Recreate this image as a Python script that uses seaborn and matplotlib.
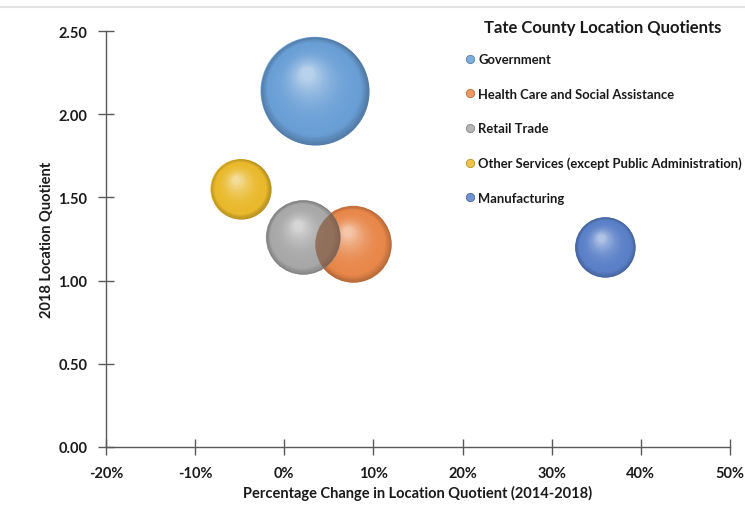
import matplotlib
matplotlib.use("Agg")
import matplotlib.pyplot as plt
import matplotlib.transforms as mtransforms
import numpy as np
import pandas as pd
import seaborn as sns
from matplotlib.colors import to_rgb
from matplotlib.lines import Line2D
from matplotlib.patches import Circle

# Data
industries = [
    "Government",
    "Health Care and Social Assistance",
    "Retail Trade",
    "Other Services (except Public Administration)",
    "Manufacturing",
]
lq_change_pct = [3.4, 7.7, 2.1, -4.9, 36.0]
lq_2018 = [2.14, 1.22, 1.26, 1.55, 1.20]
employment = [2900, 1450, 1370, 900, 900]
colors = ["#6A9FD6", "#E8874A", "#A8A8A8", "#E9B92C", "#5A80C8"]

x_ticks = [-20, -10, 0, 10, 20, 30, 40, 50]
y_ticks = [0.0, 0.5, 1.0, 1.5, 2.0, 2.5]

df = pd.DataFrame({
    "industry": industries,
    "change": lq_change_pct,
    "lq": lq_2018,
    "employment": employment,
})

# Style
sns.set_theme(style="white")
plt.rcParams["font.family"] = ["Lato", "DejaVu Sans"]
plt.rcParams["font.weight"] = "bold"
plt.rcParams["axes.labelweight"] = "bold"
AXIS_GREY = "#595959"
TEXT = "#1a1a1a"


def mix(c1, c2, t):
    a, b = np.array(to_rgb(c1)), np.array(to_rgb(c2))
    return tuple(a + (b - a) * t)


def sphere_color(base, t):
    """Colour of the shading ring at fraction t (0 = rim, 1 = highlight)."""
    dark = mix(base, "black", 0.22)
    light = mix(base, "white", 0.55)
    if t < 0.15:
        return mix(dark, base, t / 0.15)
    return mix(base, light, ((t - 0.15) / 0.85) ** 2.2)


fig = plt.figure(figsize=(7.45, 5.06), dpi=100)
ax = fig.add_axes([106 / 745, 58 / 506, 624 / 745, 416 / 506])

# area-proportional bubbles (scale: points^2 per employee)
k = 2.09
sns.scatterplot(
    data=df, x="change", y="lq", hue="industry", palette=colors,
    size="employment", sizes=(min(employment) * k, max(employment) * k),
    legend=False, linewidth=0, ax=ax, zorder=1,
)
base_sizes = ax.collections[0].get_sizes()

# shaded sphere look: stacked discs drifting toward the highlight
n_layers = 45
hx, hy = -0.15, 0.33
for i, (xv, yv, col) in enumerate(zip(lq_change_pct, lq_2018, colors)):
    R = np.sqrt(base_sizes[i]) / 2
    for j in range(n_layers):
        t = j / n_layers
        r = R * (1 - 0.9 * t)
        dx, dy = hx * R * t, hy * R * t
        trans = ax.transData + mtransforms.ScaledTranslation(dx / 72, dy / 72, fig.dpi_scale_trans)
        ax.scatter([xv], [yv], s=(2 * r) ** 2, color=sphere_color(col, t),
                   linewidths=0, transform=trans, zorder=2 + i + 0.9 * t)

# retail sphere is see-through where it overlaps health care
ri, hi = 2, 1
R_retail = np.sqrt(base_sizes[ri]) / 2
clip = Circle((0, 0), R_retail / 72, transform=fig.dpi_scale_trans
              + mtransforms.ScaledTranslation(lq_change_pct[ri], lq_2018[ri], ax.transData))
overlap = ax.scatter([lq_change_pct[hi]], [lq_2018[hi]], s=base_sizes[hi],
                     color=mix(colors[hi], "black", 0.45), alpha=0.6,
                     linewidths=0, zorder=5)
overlap.set_clip_path(clip)

ax.set_xlim(-20, 50)
ax.set_ylim(0, 2.5)
ax.set_xticks(x_ticks)
ax.set_yticks(y_ticks)
ax.set_xticklabels([f"{v}%" for v in x_ticks])
ax.set_yticklabels([f"{v:.2f}" for v in y_ticks])
ax.tick_params(axis="both", bottom=True, left=True, direction="inout", length=12,
               width=1, color=AXIS_GREY, labelsize=10.5, labelcolor=TEXT, pad=7.5)
sns.despine(ax=ax)
for side in ("left", "bottom"):
    ax.spines[side].set_color(AXIS_GREY)
    ax.spines[side].set_linewidth(1)

ax.set_xlabel("Percentage Change in Location Quotient (2014-2018)", fontsize=10.5,
              color=TEXT, labelpad=4)
ax.set_ylabel("2018 Location Quotient", fontsize=10.5, color=TEXT, labelpad=3)

handles = [
    Line2D([], [], marker="o", linestyle="", markersize=6,
           markerfacecolor=mix(c, "white", 0.15), markeredgecolor=mix(c, "black", 0.2),
           markeredgewidth=0.6)
    for c in colors
]
leg = fig.legend(
    handles, industries, title="Tate County Location Quotients",
    loc="upper left", bbox_to_anchor=(458 / 745, 1 - 15 / 506),
    frameon=False, fontsize=9.4, title_fontsize=12, labelspacing=1.72,
    handletextpad=0.15, handlelength=1.0, borderaxespad=0,
)
leg.get_title().set_fontweight("bold")
leg.get_title().set_color(TEXT)
leg._legend_box.sep = 13
for txt in leg.get_texts():
    txt.set_color(TEXT)

# thin border line at the top of the frame
fig.add_artist(Line2D([0, 1], [1 - 8 / 506] * 2, transform=fig.transFigure,
                      color="#e3e3e3", linewidth=1.5))

fig.savefig("out.png", dpi=100)
plt.close(fig)
